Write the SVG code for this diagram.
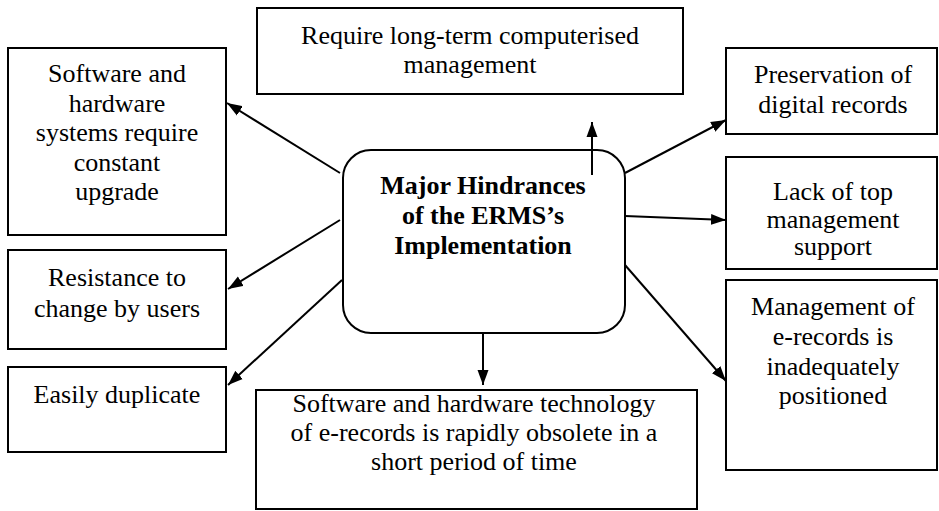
<svg xmlns="http://www.w3.org/2000/svg" width="939" height="511" viewBox="0 0 939 511">
<defs>
<marker id="ah" markerUnits="userSpaceOnUse" markerWidth="16" markerHeight="12" refX="15" refY="6" orient="auto">
<path d="M0,0.5 L15,6 L0,11.5 z" fill="#000"/>
</marker>
<style>
.box{fill:#fff;stroke:#000;stroke-width:2}
.t{font-family:"Liberation Serif","Times New Roman",serif;font-size:26px;fill:#000;text-anchor:middle}
.b{font-weight:bold}
.c{stroke:#000;stroke-width:2;fill:none;marker-end:url(#ah)}
</style>
</defs>
<rect width="939" height="511" fill="#fff"/>
<g id="connectors">
<line class="c" x1="340" y1="173" x2="227" y2="103"/>
<line class="c" x1="340" y1="220" x2="228" y2="289"/>
<line class="c" x1="342" y1="280" x2="228" y2="385"/>
<line class="c" x1="592" y1="175" x2="592" y2="122"/>
<line class="c" x1="625" y1="173" x2="726" y2="120"/>
<line class="c" x1="625" y1="216" x2="726" y2="220"/>
<line class="c" x1="625" y1="265" x2="726" y2="381"/>
<line class="c" x1="483" y1="333" x2="483" y2="385"/>
</g>
<g id="center">
<rect class="box" x="343" y="150" width="282" height="183" rx="28" ry="28"/>
<text class="t b" x="483" y="194">Major Hindrances</text>
<text class="t b" x="483" y="224">of the ERMS’s</text>
<text class="t b" x="483" y="254">Implementation</text>
<line x1="592" y1="140" x2="592" y2="175" stroke="#000" stroke-width="2"/>
</g>
<g id="n-software-upgrade">
<rect class="box" x="8" y="48" width="218" height="187"/>
<text class="t" x="117" y="82">Software and</text>
<text class="t" x="117" y="112">hardware</text>
<text class="t" x="117" y="141">systems require</text>
<text class="t" x="117" y="171">constant</text>
<text class="t" x="117" y="200">upgrade</text>
</g>
<g id="n-long-term">
<rect class="box" x="257" y="8" width="426" height="86"/>
<text class="t" x="470" y="44">Require long-term computerised</text>
<text class="t" x="470" y="73">management</text>
</g>
<g id="n-preservation">
<rect class="box" x="726" y="48" width="211" height="86"/>
<text class="t" x="833" y="83">Preservation of</text>
<text class="t" x="833" y="113">digital records</text>
</g>
<g id="n-lack">
<rect class="box" x="726" y="157" width="211" height="112"/>
<text class="t" x="833" y="200">Lack of top</text>
<text class="t" x="833" y="228">management</text>
<text class="t" x="833" y="255">support</text>
</g>
<g id="n-management">
<rect class="box" x="726" y="280" width="211" height="190"/>
<text class="t" x="833" y="315">Management of</text>
<text class="t" x="833" y="345">e-records is</text>
<text class="t" x="833" y="375">inadequately</text>
<text class="t" x="833" y="404">positioned</text>
</g>
<g id="n-resistance">
<rect class="box" x="8" y="250" width="218" height="99"/>
<text class="t" x="117" y="286">Resistance to</text>
<text class="t" x="117" y="317">change by users</text>
</g>
<g id="n-duplicate">
<rect class="box" x="8" y="367" width="218" height="85"/>
<text class="t" x="117" y="403">Easily duplicate</text>
</g>
<g id="n-obsolete">
<rect class="box" x="256" y="390" width="441" height="119"/>
<text class="t" x="474" y="412">Software and hardware technology</text>
<text class="t" x="474" y="441">of e-records is rapidly obsolete in a</text>
<text class="t" x="474" y="470">short period of time</text>
</g>
</svg>
